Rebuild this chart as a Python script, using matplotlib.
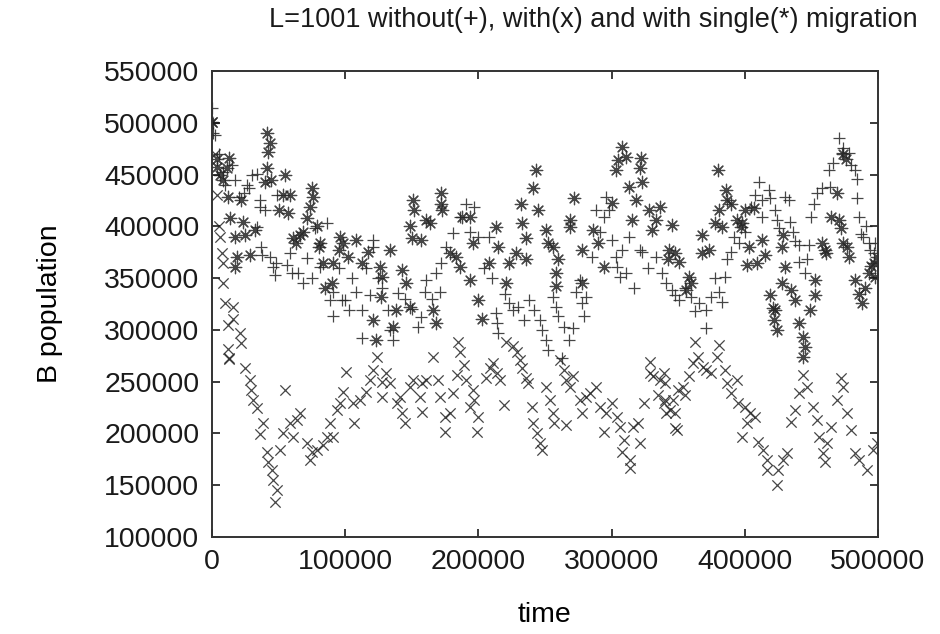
import numpy as np
import matplotlib
matplotlib.use("Agg")
import matplotlib.pyplot as plt

# values, in thousands (time, B population)
# without migration (+)
plus_t = [0, 0.5, 1, 2, 5, 8, 10, 15, 17, 20, 24, 26, 28, 30, 34, 36, 36, 40, 34, 37,
          37.5, 43.5, 46, 48, 47, 49, 56, 58.5, 60, 64.5, 68, 71, 75, 77, 81, 86, 88.5, 91, 91, 95,
          97.5, 100, 103, 105, 108, 113, 113, 116, 119, 121, 121, 125, 128, 132, 134, 136, 140, 145, 150, 155,
          157, 160, 161, 165, 168, 171, 172, 176, 181, 186, 191, 194, 197, 200, 204, 208, 210, 213, 214, 215,
          220, 223, 226, 230, 234, 238, 242, 246, 248, 251, 252, 256, 258, 260, 263, 264, 268, 271, 273, 276,
          278, 279, 281, 285, 288, 291, 294, 296, 298, 300, 303, 304, 306, 308, 311, 313, 317, 321, 323, 327,
          333, 338, 341, 345, 348, 351, 355, 360, 363, 366, 371, 371, 375, 378, 381, 383, 385, 387, 390, 392,
          396, 400, 405, 408, 411, 413, 413, 418, 419, 423, 424, 426, 430, 433, 434, 436, 438, 441, 445, 447,
          448, 441, 450, 452, 454, 458, 463, 464, 466, 471, 473, 474, 478, 480, 483, 484, 484, 486, 487, 489,
          491, 493, 494, 497, 498, 500]
plus_b = [514, 490, 500, 488, 470, 452, 440, 459, 445, 428, 432, 440, 437, 450, 451, 425, 419, 416, 399, 380,
          372, 370, 361, 365, 353, 430, 363, 374, 355, 355, 345, 369, 350, 398, 361, 403, 329, 337, 313, 360,
          329, 329, 319, 350, 337, 319, 292, 360, 334, 387, 380, 350, 340, 319, 300, 290, 336, 330, 320, 303,
          312, 337, 348, 330, 355, 337, 365, 380, 394, 409, 422, 395, 419, 390, 360, 390, 350, 316, 307, 297,
          335, 326, 319, 322, 310, 329, 319, 310, 300, 290, 281, 332, 322, 313, 273, 303, 290, 302, 337, 348,
          326, 313, 332, 370, 416, 395, 409, 428, 416, 387, 370, 361, 351, 377, 355, 390, 340, 377, 375, 360,
          370, 355, 345, 339, 334, 329, 340, 332, 318, 326, 319, 302, 332, 350, 337, 327, 351, 368, 375, 390,
          384, 395, 419, 430, 443, 425, 409, 435, 427, 416, 406, 398, 428, 425, 404, 395, 386, 382, 355, 368,
          382, 366, 409, 422, 432, 437, 454, 438, 461, 485, 471, 476, 471, 459, 454, 446, 427, 409, 393, 390,
          400, 384, 377, 374, 384, 365]

# with migration (x)
cross_t = [0, 2, 4, 5, 6, 7.5, 8, 8.5, 10, 12, 16, 16, 21, 22, 12, 12.5, 13, 25, 28.5, 29,
           31, 34, 36, 38, 41, 42, 45, 46, 49, 47, 51, 53, 55, 58.5, 61, 64, 66, 71, 73.5, 75,
           79, 83, 86, 88.5, 91, 94, 96, 98, 101, 106, 107, 111, 116, 119, 121, 124, 128, 128, 131, 134,
           139, 141, 143, 145, 149, 151, 156, 158, 158, 161, 166, 170, 171, 175, 175, 179, 181, 184, 185, 186,
           189, 191, 194, 196, 197, 199, 200, 206, 209, 211, 214, 216, 219, 221, 226, 229, 231, 233, 236, 237,
           240, 241, 244, 246, 248, 251, 254, 256, 257, 261, 264, 266, 266, 269, 271, 276, 278, 281, 284, 288,
           291, 294, 296, 300, 304, 306, 308, 309, 314, 314, 316, 320, 321, 324, 329, 329, 331, 335, 336, 339,
           339, 340, 340, 341, 344, 346, 348, 348, 349, 350, 354, 355, 358, 361, 363, 365, 369, 371, 375, 379,
           381, 385, 387, 390, 394, 395, 398, 400, 402, 404, 408, 410, 414, 417, 417, 424, 425, 429, 432, 435,
           438, 441, 444, 447, 451, 454, 456, 459, 460, 462, 465, 469, 472, 474, 477, 480, 483, 486, 492, 496,
           499]
cross_b = [501, 470, 430, 400, 390, 374, 365, 345, 326, 305, 322, 311, 297, 287, 282, 273, 272, 263, 252, 242,
           232, 225, 199, 210, 182, 172, 165, 155, 145, 134, 184, 200, 242, 210, 197, 213, 220, 191, 174, 182,
           184, 189, 197, 210, 197, 223, 229, 240, 259, 229, 210, 232, 240, 252, 261, 274, 250, 235, 258, 249,
           229, 235, 220, 210, 245, 252, 235, 221, 249, 252, 274, 252, 235, 216, 201, 220, 239, 256, 288, 279,
           266, 252, 226, 242, 232, 201, 216, 254, 263, 268, 258, 252, 227, 288, 284, 279, 271, 263, 254, 249,
           226, 210, 200, 191, 184, 245, 232, 220, 210, 271, 261, 252, 208, 245, 255, 232, 220, 235, 239, 245,
           226, 201, 220, 229, 216, 206, 182, 194, 174, 167, 206, 210, 191, 229, 269, 258, 255, 237, 252, 229,
           258, 249, 232, 220, 223, 232, 220, 205, 203, 242, 245, 237, 255, 268, 288, 274, 264, 261, 258, 274,
           285, 261, 249, 239, 252, 229, 197, 226, 210, 220, 216, 192, 184, 174, 165, 150, 165, 174, 181, 211,
           223, 239, 256, 245, 226, 213, 197, 181, 172, 191, 206, 232, 254, 245, 220, 203, 181, 174, 165, 184,
           191]

# with single migration (*)
star_t = [0, 3.7, 4, 6, 8, 11, 13, 12, 13.5, 17, 17, 19, 22, 23, 25, 28.5, 32, 40, 41, 43.5,
          42, 41, 44, 50, 53, 55, 57, 58.5, 61, 63, 66, 68, 71, 73.5, 75, 76, 79, 81, 80, 83,
          85, 90, 91, 95, 96, 98, 102, 108, 113, 117, 121, 123, 126, 127, 128, 134, 136, 138, 143, 146,
          149, 149, 150, 151, 152, 157, 161, 164, 166, 168, 172, 172, 173, 179, 183, 186, 188, 194, 194, 196,
          200, 203, 208, 213, 215, 221, 223, 228, 232, 233, 236, 236, 241, 243, 245, 251, 252, 256, 258, 258,
          260, 269, 269, 272, 278, 278, 286, 290, 294, 300, 303, 305, 308, 311, 313, 315, 318, 321, 322, 323,
          328, 330, 333, 336, 342, 343, 345, 348, 351, 356, 358, 360, 368, 368, 373, 378, 380, 381, 383, 386,
          387, 390, 394, 397, 398, 400, 402, 403, 407, 409, 413, 415, 419, 421, 423, 422, 424, 428, 428, 429,
          430, 435, 438, 441, 444, 445, 444, 449, 453, 453, 458, 460, 461, 465, 469, 471, 472, 474, 476, 474,
          478, 477, 483, 486, 488, 490, 493, 495, 497, 498, 499]
star_b = [501, 465, 457, 450, 445, 456, 466, 428, 408, 390, 361, 370, 425, 404, 392, 372, 396, 443, 490, 480,
          472, 456, 445, 416, 430, 450, 413, 430, 389, 384, 392, 395, 408, 419, 437, 428, 400, 384, 380, 365,
          340, 345, 365, 377, 390, 384, 370, 387, 365, 375, 310, 290, 361, 332, 351, 377, 303, 319, 358, 345,
          322, 400, 389, 425, 416, 387, 406, 403, 319, 307, 432, 422, 416, 374, 370, 361, 409, 348, 409, 384,
          329, 311, 365, 399, 380, 345, 365, 374, 422, 403, 389, 368, 437, 454, 416, 396, 384, 380, 355, 342,
          368, 406, 399, 427, 377, 345, 396, 384, 361, 423, 454, 464, 477, 467, 438, 406, 425, 456, 466, 443,
          416, 396, 406, 419, 368, 377, 401, 374, 366, 339, 351, 345, 392, 374, 377, 403, 454, 416, 399, 435,
          425, 422, 406, 399, 403, 416, 363, 380, 418, 365, 387, 372, 334, 321, 319, 310, 300, 380, 345, 392,
          361, 339, 329, 307, 293, 283, 274, 319, 348, 334, 384, 377, 374, 409, 432, 406, 398, 470, 465, 384,
          370, 380, 348, 335, 326, 340, 355, 362, 365, 351, 370]

plt.rcParams['font.family'] = ['Liberation Sans', 'DejaVu Sans']

fig = plt.figure(figsize=(9.4, 6.34), dpi=100)
ax = fig.add_axes([0.2255, 0.153, 0.7085, 0.735])

ink = '#262626'
ax.scatter(np.array(plus_t) * 1000, np.array(plus_b) * 1000, marker='+', s=80,
           linewidths=0.9, color=ink, alpha=0.85)
ax.scatter(np.array(cross_t) * 1000, np.array(cross_b) * 1000, marker='x', s=55,
           linewidths=0.9, color=ink, alpha=0.85)
ax.scatter(np.array(star_t) * 1000, np.array(star_b) * 1000, marker=(8, 2, 0), s=80,
           linewidths=0.9, color=ink, alpha=0.85)

ax.set_xlim(0, 500000)
ax.set_ylim(100000, 550000)
ax.set_xticks(np.arange(0, 500001, 100000))
ax.set_yticks(np.arange(100000, 550001, 50000))
ax.tick_params(direction='in', length=6, width=1.2, top=True, right=True,
               labelsize=20.5, colors='#1a1a1a', pad=9)
for sp in ax.spines.values():
    sp.set_linewidth(1.4)
    sp.set_color('#333333')

ax.set_xlabel('time', fontsize=20.5, labelpad=19)
ax.set_ylabel('B population', fontsize=20.5, labelpad=30)
fig.text(593 / 940, 1 - 20 / 634, 'L=1001 without(+), with(x) and with single(*) migration',
         fontsize=19.5, ha='center', va='center', color='#1a1a1a')

fig.savefig('out.png', dpi=100)
